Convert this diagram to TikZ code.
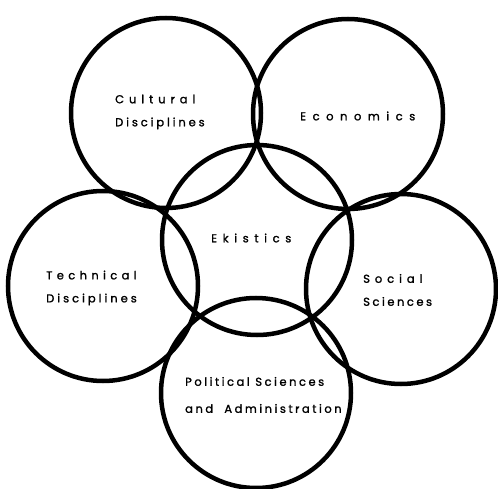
\documentclass[tikz,border=0pt]{standalone}
\usepackage{fontspec}
\setmainfont{Poppins}[LetterSpace=22, FakeBold=1.4]

% wider tracking for one line of a label
\newcommand\tracked[2]{{\addfontfeature{LetterSpace=#1}#2}}

\begin{document}
\begin{tikzpicture}[x=1pt,y=-1pt,
    ring/.style={circle, draw, line width=4.5pt, minimum size=190pt, inner sep=0pt},
    lbl/.style={anchor=west, align=left, inner sep=0pt, font=\fontsize{11.5}{23}\selectfont}]
    \useasboundingbox (0,0) rectangle (498,489);

    % the six fields
    \node[ring] (cult) at (166,113) {};
    \node[ring] (econ) at (348,114) {};
    \node[ring] (ekis) at (257,240) {};
    \node[ring] (tech) at (103,286) {};
    \node[ring] (soc)  at (401,289) {};
    \node[ring] (pol)  at (256,393) {};

    % names
    \node[lbl] (tcult) at (115,112) {\tracked{43}{Cultural}\\\tracked{25}{Disciplines}};
    \node[lbl] (tecon) at (300,116) {\tracked{57}{Economics}};
    \node[lbl] (tekis) at (211,238) {\tracked{49}{Ekistics}};
    \node[lbl] (ttech) at (46,288) {\tracked{38}{Technical}\\\tracked{26}{Disciplines}};
    \node[lbl] (tsoc)  at (363,290) {\tracked{43}{Social}\\Sciences};
    \node[lbl, font=\fontsize{11.5}{27}\selectfont] (tpol) at (185,395) {Political Sciences\\and\ \ Administration};
\end{tikzpicture}
\end{document}
